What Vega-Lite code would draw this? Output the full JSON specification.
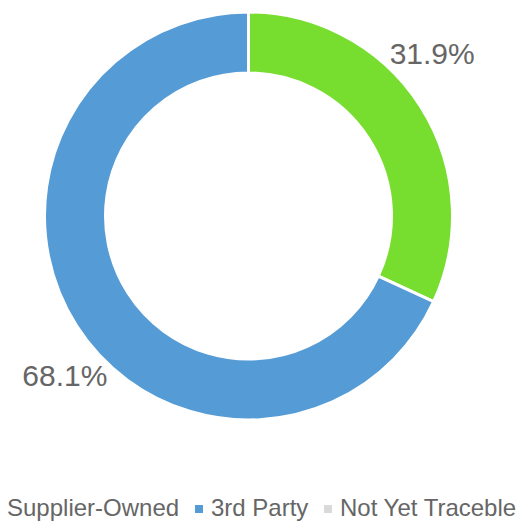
{
  "$schema": "https://vega.github.io/schema/vega-lite/v6.json",
  "width": 497,
  "height": 432,
  "padding": {"left": 0, "top": 0, "right": 28, "bottom": 89},
  "autosize": {"type": "none"},
  "background": "#ffffff",
  "config": {"view": {"stroke": null}},
  "data": {
    "values": [
      {"source": "Supplier-Owned", "value": 0.319},
      {"source": "3rd Party", "value": 0.681},
      {"source": "Not Yet Traceble", "value": 0}
    ]
  },
  "encoding": {
    "theta": {"field": "value", "type": "quantitative", "stack": true},
    "order": {"field": "value", "type": "quantitative", "sort": "ascending"}
  },
  "layer": [
    {
      "mark": {"type": "arc", "radius": 204, "radius2": 143, "stroke": "#ffffff", "strokeWidth": 3},
      "encoding": {
        "color": {
          "field": "source",
          "type": "nominal",
          "scale": {"domain": ["Supplier-Owned", "3rd Party", "Not Yet Traceble"], "range": ["#77dd2f", "#559bd6", "#d9d9d9"]},
          "legend": {
            "title": null,
            "orient": "none",
            "direction": "horizontal",
            "legendX": -17,
            "legendY": 497,
            "symbolType": "square",
            "symbolSize": 64,
            "symbolStrokeWidth": 0,
            "labelFontSize": 24,
            "labelFont": "Liberation Sans",
            "labelColor": "#666666",
            "labelOffset": 0,
            "columnPadding": 7,
            "padding": 0,
            "labelLimit": 400
          }
        }
      }
    },
    {
      "transform": [{"filter": "datum.value > 0"}],
      "mark": {"type": "text", "radius": 244, "thetaOffset": -0.15, "font": "Liberation Sans", "fontSize": 30, "color": "#666666", "align": "center", "baseline": "middle"},
      "encoding": {
        "text": {"field": "value", "type": "quantitative", "format": ".1%"}
      }
    }
  ]
}
